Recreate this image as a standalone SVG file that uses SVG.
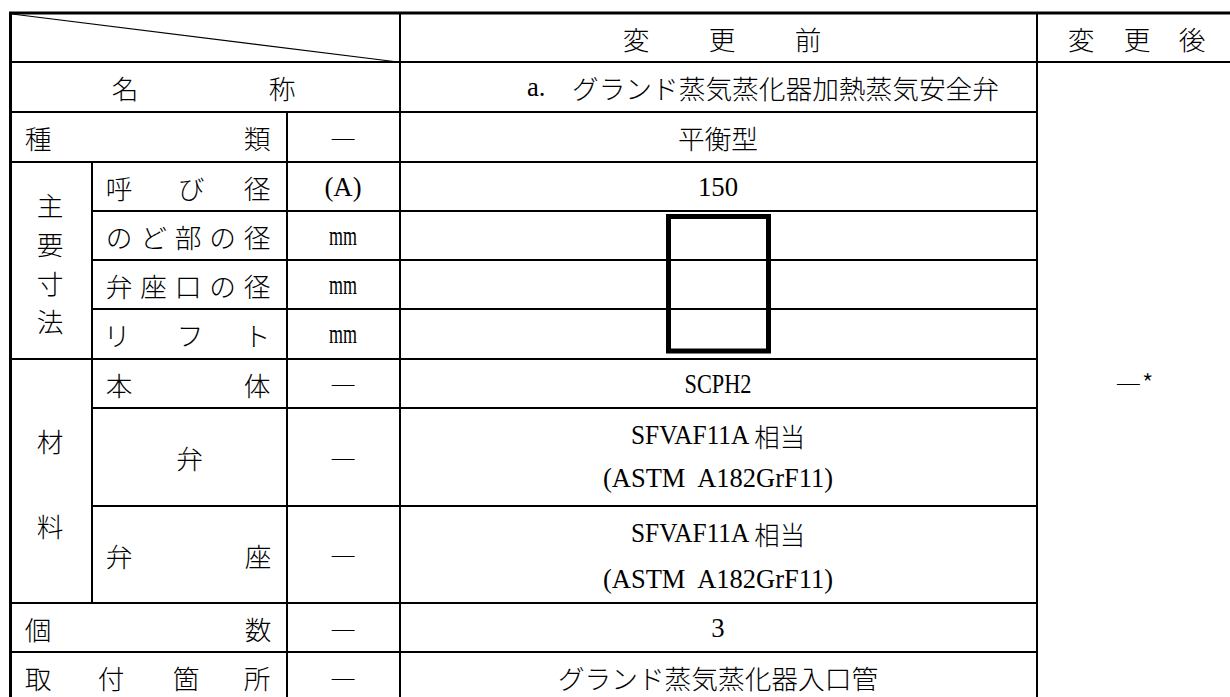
<svg xmlns="http://www.w3.org/2000/svg" width="1230" height="697" viewBox="0 0 1230 697">
<style>
.t{font-family:"Noto Sans CJK JP","Liberation Serif",sans-serif;font-size:26.7px;font-weight:300;fill:#000;dominant-baseline:central;text-anchor:middle}
.l{font-family:"Liberation Serif","Noto Sans CJK JP",serif;font-size:26.7px;fill:#000;dominant-baseline:central;text-anchor:middle;white-space:pre}
.j{font-family:"Noto Sans CJK JP",sans-serif;font-weight:300}
.d{font-family:"Noto Sans CJK JP",sans-serif;font-size:26.7px;font-weight:300;fill:#000;dominant-baseline:central;text-anchor:middle}
.ln{stroke:#000;stroke-width:2;fill:none}
.thick{stroke:#000;stroke-width:3;fill:none}
</style>
<rect width="1230" height="697" fill="#fff"/>
<g id="connectors">
  <line class="thick" x1="9" y1="13" x2="1230" y2="13"/>
  <line class="thick" x1="10.5" y1="12" x2="10.5" y2="697"/>
  <line class="ln" x1="12" y1="14" x2="398" y2="62" style="stroke-width:1.2"/>
  <line class="ln" x1="12" y1="62" x2="1230" y2="62"/>
  <line class="ln" x1="12" y1="112" x2="1037" y2="112"/>
  <line class="ln" x1="12" y1="162" x2="1037" y2="162"/>
  <line class="ln" x1="92" y1="211" x2="1037" y2="211"/>
  <line class="ln" x1="92" y1="260" x2="1037" y2="260"/>
  <line class="ln" x1="92" y1="309" x2="1037" y2="309"/>
  <line class="ln" x1="12" y1="359" x2="1037" y2="359"/>
  <line class="ln" x1="92" y1="408" x2="1037" y2="408"/>
  <line class="ln" x1="92" y1="506" x2="1037" y2="506"/>
  <line class="ln" x1="12" y1="603" x2="1037" y2="603"/>
  <line class="ln" x1="12" y1="652" x2="1037" y2="652"/>
  <line class="ln" x1="92" y1="162" x2="92" y2="603"/>
  <line class="ln" x1="287" y1="112" x2="287" y2="697"/>
  <line class="ln" x1="400" y1="13" x2="400" y2="697"/>
  <line class="ln" x1="1037" y1="13" x2="1037" y2="697"/>
</g>
<g id="header">
  <text class="t"><tspan x="636" y="37.5">変</tspan><tspan x="722" y="37.5">更</tspan><tspan x="808" y="37.5">前</tspan></text>
  <text class="t"><tspan x="1081" y="37.5">変</tspan><tspan x="1137" y="37.5">更</tspan><tspan x="1192" y="37.5">後</tspan></text>
</g>
<g id="row-name">
  <text class="t"><tspan x="125" y="87">名</tspan><tspan x="282" y="87">称</tspan></text>
  <text class="l" x="527" y="87" style="text-anchor:start">a. <tspan x="572" class="j">グランド蒸気蒸化器加熱蒸気安全弁</tspan></text>
</g>
<g id="row-type">
  <text class="t"><tspan x="38" y="137">種</tspan><tspan x="257" y="137">類</tspan></text>
  <text class="d" x="343" y="137">―</text>
  <text class="t" x="718" y="137">平衡型</text>
</g>
<g id="row-dims">
  <text class="t"><tspan x="50" y="204">主</tspan><tspan x="50" y="243">要</tspan><tspan x="50" y="282">寸</tspan><tspan x="50" y="320">法</tspan></text>
  <text class="t"><tspan x="119" y="186.5">呼</tspan><tspan x="191" y="186.5">び</tspan><tspan x="257" y="186.5">径</tspan></text>
  <text class="l" x="343" y="186.5">(A)</text>
  <text class="l" x="718" y="186.5">150</text>
  <text class="t"><tspan x="119" y="235.5">の</tspan><tspan x="153.5" y="235.5">ど</tspan><tspan x="188" y="235.5">部</tspan><tspan x="222.5" y="235.5">の</tspan><tspan x="257" y="235.5">径</tspan></text>
  <text class="l" x="343" y="235.5" textLength="28" lengthAdjust="spacingAndGlyphs">mm</text>
  <text class="t"><tspan x="119" y="284.5">弁</tspan><tspan x="153.5" y="284.5">座</tspan><tspan x="188" y="284.5">口</tspan><tspan x="222.5" y="284.5">の</tspan><tspan x="257" y="284.5">径</tspan></text>
  <text class="l" x="343" y="284.5" textLength="28" lengthAdjust="spacingAndGlyphs">mm</text>
  <text class="t"><tspan x="117" y="334">リ</tspan><tspan x="190" y="334">フ</tspan><tspan x="257" y="334">ト</tspan></text>
  <text class="l" x="343" y="334" textLength="28" lengthAdjust="spacingAndGlyphs">mm</text>
  <rect x="668.5" y="216.5" width="100" height="134.5" fill="none" stroke="#000" stroke-width="5"/>
</g>
<g id="row-material">
  <text class="t"><tspan x="50" y="440">材</tspan><tspan x="50" y="525">料</tspan></text>
  <text class="t"><tspan x="119" y="383.5">本</tspan><tspan x="257" y="383.5">体</tspan></text>
  <text class="d" x="343" y="383.5">―</text>
  <text class="l" x="718" y="383.5" textLength="67" lengthAdjust="spacingAndGlyphs">SCPH2</text>
  <text class="t" x="189.5" y="457">弁</text>
  <text class="d" x="343" y="457">―</text>
  <text class="l" x="718" y="434.5" textLength="174" lengthAdjust="spacingAndGlyphs">SFVAF11A <tspan class="j">相当</tspan></text>
  <text class="l" x="718" y="478" textLength="230" lengthAdjust="spacingAndGlyphs">(ASTM  A182GrF11)</text>
  <text class="t"><tspan x="119" y="554.5">弁</tspan><tspan x="258" y="554.5">座</tspan></text>
  <text class="d" x="343" y="554.5">―</text>
  <text class="l" x="718" y="532.5" textLength="174" lengthAdjust="spacingAndGlyphs">SFVAF11A <tspan class="j">相当</tspan></text>
  <text class="l" x="718" y="579" textLength="230" lengthAdjust="spacingAndGlyphs">(ASTM  A182GrF11)</text>
</g>
<g id="row-count">
  <text class="t"><tspan x="38" y="628">個</tspan><tspan x="258" y="628">数</tspan></text>
  <text class="d" x="343" y="628">―</text>
  <text class="l" x="718" y="628">3</text>
</g>
<g id="row-location">
  <text class="t"><tspan x="38" y="677">取</tspan><tspan x="111" y="677">付</tspan><tspan x="186" y="677">箇</tspan><tspan x="257" y="677">所</tspan></text>
  <text class="d" x="343" y="677">―</text>
  <text class="t" x="718" y="677">グランド蒸気蒸化器入口管</text>
</g>
<g id="after">
  <text class="d" x="1115" y="382" style="text-anchor:start">―*</text>
</g>
</svg>
